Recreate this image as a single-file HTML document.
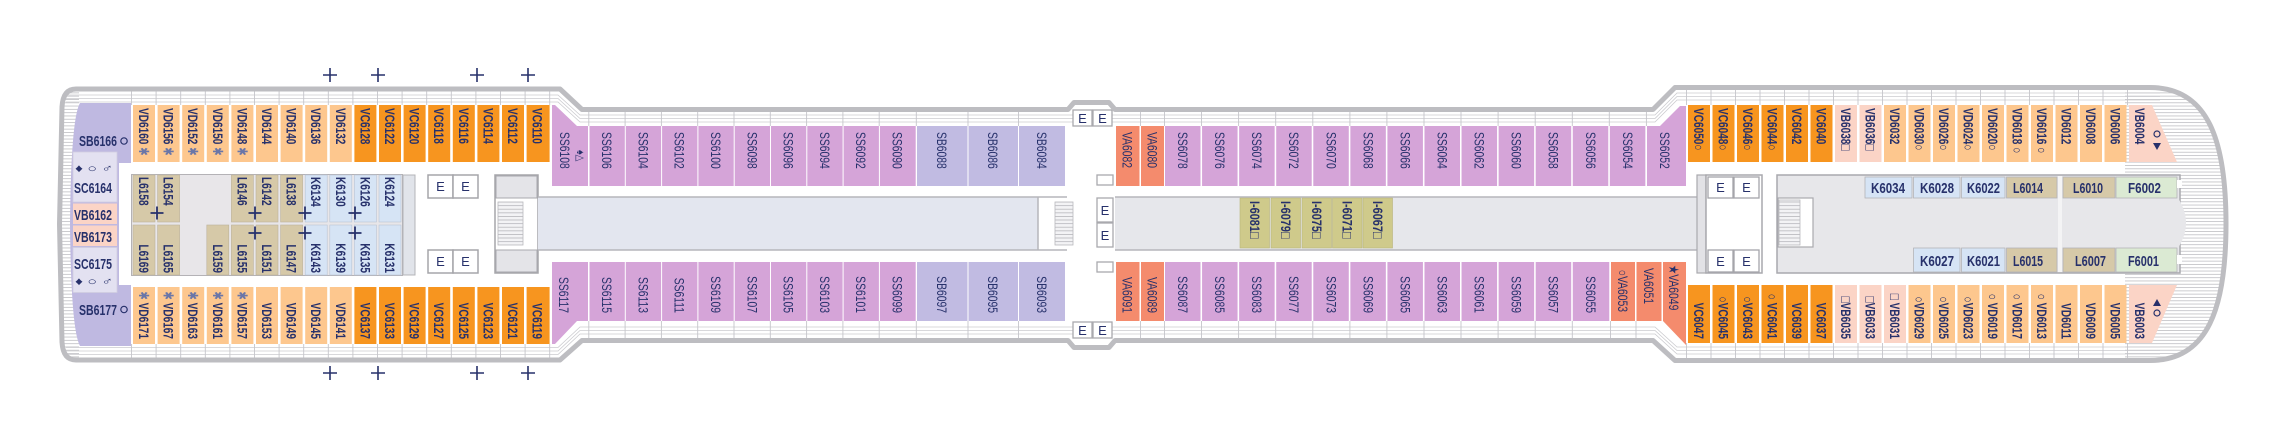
<!DOCTYPE html>
<html><head><meta charset="utf-8"><style>
html,body{margin:0;padding:0;background:#fff;}
svg{display:block;}
text{font-family:"Liberation Sans","DejaVu Sans",sans-serif;fill:#27316b;}
.v{font-size:14px;}
.b{font-weight:bold;}
.e{font-size:13px;}
tspan.s{fill:#6a76a8;font-weight:normal;}
</style></head><body>
<svg width="2270" height="448" viewBox="0 0 2270 448" xmlns="http://www.w3.org/2000/svg">
<defs>
<clipPath id="hc"><path d="M76 89 L560 89 L582 109.5 L1068 109.5 L1074 102.5 L1109 102.5 L1115 109.5 L1653 109.5 L1675 87.5 L2150 87.5 C2208 87.5 2226 140 2226 224 C2226 308 2208 360.5 2150 360.5 L1675 360.5 L1653 340.5 L1115 340.5 L1109 347.5 L1074 347.5 L1068 340.5 L582 340.5 L560 360 L76 360 Q63 360 62 342 L59.5 224 L62 107 Q63 89 76 89 Z"/></clipPath>
<pattern id="st" width="20" height="3.3" patternUnits="userSpaceOnUse"><rect width="20" height="3.3" fill="#fff"/><rect width="20" height="0.9" fill="#c6c6ca"/></pattern>
<pattern id="sg" width="30" height="3.6" patternUnits="userSpaceOnUse"><rect width="30" height="3.6" fill="#f3f3f5"/><rect width="30" height="0.8" fill="#b7b7bc"/></pattern>
</defs>

<path d="M76 89 L560 89 L582 109.5 L1068 109.5 L1074 102.5 L1109 102.5 L1115 109.5 L1653 109.5 L1675 87.5 L2150 87.5 C2208 87.5 2226 140 2226 224 C2226 308 2208 360.5 2150 360.5 L1675 360.5 L1653 340.5 L1115 340.5 L1109 347.5 L1074 347.5 L1068 340.5 L582 340.5 L560 360 L76 360 Q63 360 62 342 L59.5 224 L62 107 Q63 89 76 89 Z" fill="#fff"/>
<g clip-path="url(#hc)">
<rect x="55" y="85" width="24" height="280" fill="url(#st)"/>
<rect x="2125" y="84" width="110" height="282" fill="url(#st)"/>
</g>

<path fill="none" stroke="#cbcbcf" stroke-width="0.8" d="M66 95 L558 95 L580 115 L1655 115 L1677 93 L2160 93 M66 98.5 L558 98.5 L580 118.5 L1655 118.5 L1677 96.5 L2160 96.5 M66 102 L558 102 L580 122 L1655 122 L1677 100 L2160 100 M66 354.5 L558 354.5 L580 334 L1655 334 L1677 354 L2160 354 M66 351 L558 351 L580 330.5 L1655 330.5 L1677 350.5 L2160 350.5 M66 347.5 L558 347.5 L580 327 L1655 327 L1677 347 L2160 347"/>
<path fill="none" stroke="#c6c6cb" stroke-width="0.9" d="M131.5 91V105 M156.1 91V105 M180.7 91V105 M205.3 91V105 M229.9 91V105 M254.5 91V105 M279.1 91V105 M303.7 91V105 M328.3 91V105 M352.9 91V105 M377.5 91V105 M402.1 91V105 M426.7 91V105 M451.3 91V105 M475.9 91V105 M500.5 91V105 M525.1 91V105 M549.7 91V105
M131.5 344V358 M156.1 344V358 M180.7 344V358 M205.3 344V358 M229.9 344V358 M254.5 344V358 M279.1 344V358 M303.7 344V358 M328.3 344V358 M352.9 344V358 M377.5 344V358 M402.1 344V358 M426.7 344V358 M451.3 344V358 M475.9 344V358 M500.5 344V358 M525.1 344V358 M549.7 344V358
M588.8 112V126 M625.1 112V126 M661.4 112V126 M697.7 112V126 M734 112V126 M770.3 112V126 M806.6 112V126 M842.9 112V126 M879.2 112V126 M916.3 112V126 M968 112V126 M1018.5 112V126 M1140.5 112V126 M1164.5 112V126 M1201.5 112V126 M1238.6 112V126 M1275.7 112V126 M1312.8 112V126 M1349.9 112V126 M1386.9 112V126 M1424 112V126 M1461 112V126 M1498.1 112V126 M1535.2 112V126 M1572.3 112V126 M1609.3 112V126 M1646.4 112V126
M588.8 321V338 M625.1 321V338 M661.4 321V338 M697.7 321V338 M734 321V338 M770.3 321V338 M806.6 321V338 M842.9 321V338 M879.2 321V338 M916.3 321V338 M968 321V338 M1018.5 321V338 M1140.5 321V338 M1164.5 321V338 M1201.5 321V338 M1238.6 321V338 M1275.7 321V338 M1312.8 321V338 M1349.9 321V338 M1386.9 321V338 M1424 321V338 M1461 321V338 M1498.1 321V338 M1535.2 321V338 M1572.3 321V338 M1610.5 321V338 M1636 321V338
M1686.5 90V105 M1711 90V105 M1735.5 90V105 M1760 90V105 M1784.5 90V105 M1809 90V105 M1833.5 90V105 M1858 90V105 M1882.5 90V105 M1907 90V105 M1931.5 90V105 M1956 90V105 M1980.5 90V105 M2005 90V105 M2029.5 90V105 M2054 90V105 M2078.5 90V105 M2103 90V105 M2127.5 90V105
M1686.5 343V358 M1711 343V358 M1735.5 343V358 M1760 343V358 M1784.5 343V358 M1809 343V358 M1833.5 343V358 M1858 343V358 M1882.5 343V358 M1907 343V358 M1931.5 343V358 M1956 343V358 M1980.5 343V358 M2005 343V358 M2029.5 343V358 M2054 343V358 M2078.5 343V358 M2103 343V358 M2127.5 343V358"/>

<path d="M80 103 L131 103 L131 163 L119 163 L119 285 L131 285 L131 346 L80 346 Q71 330 70 224 Q71 118 80 103 Z" fill="#bfb9e1"/>
<rect x="73" y="152" width="44" height="50" fill="#e3e1f1" stroke="#d0cee2" stroke-width="0.8"/>
<rect x="73" y="203.5" width="44" height="20.5" fill="#fbd4c6"/>
<rect x="73" y="225.5" width="44" height="20.5" fill="#fbd4c6"/>
<rect x="73" y="247.5" width="44" height="45" fill="#e3e1f1" stroke="#d0cee2" stroke-width="0.8"/>

<g fill="#fdc78e">
<rect x="133" y="105" width="22" height="57"/><rect x="157.6" y="105" width="22" height="57"/><rect x="182.2" y="105" width="22" height="57"/><rect x="206.8" y="105" width="22" height="57"/><rect x="231.4" y="105" width="22" height="57"/><rect x="256" y="105" width="22" height="57"/><rect x="280.6" y="105" width="22" height="57"/><rect x="305.2" y="105" width="22" height="57"/><rect x="329.8" y="105" width="22" height="57"/>
<rect x="133" y="287" width="22" height="57"/><rect x="157.6" y="287" width="22" height="57"/><rect x="182.2" y="287" width="22" height="57"/><rect x="206.8" y="287" width="22" height="57"/><rect x="231.4" y="287" width="22" height="57"/><rect x="256" y="287" width="22" height="57"/><rect x="280.6" y="287" width="22" height="57"/><rect x="305.2" y="287" width="22" height="57"/><rect x="329.8" y="287" width="22" height="57"/>
</g>
<g fill="#f7951f">
<rect x="354.4" y="105" width="22" height="57"/><rect x="379" y="105" width="22" height="57"/><rect x="403.6" y="105" width="22" height="57"/><rect x="428.2" y="105" width="22" height="57"/><rect x="452.8" y="105" width="22" height="57"/><rect x="477.4" y="105" width="22" height="57"/><rect x="502" y="105" width="22" height="57"/><rect x="526.6" y="105" width="23" height="57"/>
<rect x="354.4" y="287" width="22" height="57"/><rect x="379" y="287" width="22" height="57"/><rect x="403.6" y="287" width="22" height="57"/><rect x="428.2" y="287" width="22" height="57"/><rect x="452.8" y="287" width="22" height="57"/><rect x="477.4" y="287" width="22" height="57"/><rect x="502" y="287" width="22" height="57"/><rect x="526.6" y="287" width="23" height="57"/>
</g>

<rect x="131.5" y="174.5" width="271" height="101" fill="#e8e6e9" stroke="#b4b2b6" stroke-width="1"/>
<g fill="#d6c9a8" stroke="#bcb29a" stroke-width="0.6">
<rect x="133" y="175" width="22" height="47"/><rect x="157.6" y="175" width="22" height="47"/><rect x="231.4" y="175" width="22" height="47"/><rect x="256" y="175" width="22" height="47"/><rect x="280.6" y="175" width="22" height="47"/>
<rect x="133" y="225" width="22" height="50"/><rect x="157.6" y="225" width="22" height="50"/><rect x="206.8" y="225" width="22" height="50"/><rect x="231.4" y="225" width="22" height="50"/><rect x="256" y="225" width="22" height="50"/><rect x="280.6" y="225" width="22" height="50"/>
</g>
<g fill="#d6e4f5" stroke="#b8c4d4" stroke-width="0.6">
<rect x="305.2" y="175" width="22" height="47"/><rect x="329.8" y="175" width="22" height="47"/><rect x="354.4" y="175" width="22" height="47"/><rect x="379" y="175" width="22" height="47"/>
<rect x="305.2" y="225" width="22" height="50"/><rect x="329.8" y="225" width="22" height="50"/><rect x="354.4" y="225" width="22" height="50"/><rect x="379" y="225" width="22" height="50"/>
</g>
<rect x="403" y="175" width="12" height="100" fill="#e1e4ea" stroke="#b4b4b8" stroke-width="1"/>

<g fill="#fff" stroke="#a5a5aa" stroke-width="1.5">
<rect x="428" y="175" width="25" height="23"/><rect x="453" y="175" width="25" height="23"/>
<rect x="428" y="250" width="25" height="23"/><rect x="453" y="250" width="25" height="23"/>
<rect x="495" y="175" width="43" height="98"/>
</g>
<rect x="496" y="176" width="41" height="22" fill="#e4e4e8" stroke="#a9a9ae" stroke-width="1"/>
<rect x="496" y="250" width="41" height="22" fill="#e4e4e8" stroke="#a9a9ae" stroke-width="1"/>
<rect x="498" y="202" width="25" height="43" fill="url(#sg)" stroke="#b9b9be" stroke-width="0.8"/>

<rect x="538" y="197" width="500" height="53" fill="#e3e6ef"/>
<path d="M538 197H1067 M538 250H1067 M1038 197V250" stroke="#b6b6bb" stroke-width="1.5" fill="none"/>
<rect x="1055" y="202" width="18" height="43" fill="url(#sg)" stroke="#b9b9be" stroke-width="0.8"/>

<g fill="#d5a4d8">
<polygon points="552,105 555,105 577,126 588,126 588,186 552,186"/>
<rect x="589.5" y="126" width="35.3" height="60"/><rect x="625.8" y="126" width="35.3" height="60"/><rect x="662.1" y="126" width="35.3" height="60"/><rect x="698.4" y="126" width="35.3" height="60"/><rect x="734.7" y="126" width="35.3" height="60"/><rect x="771" y="126" width="35.3" height="60"/><rect x="807.3" y="126" width="35.3" height="60"/><rect x="843.6" y="126" width="35.3" height="60"/><rect x="879.9" y="126" width="35.8" height="60"/>
<polygon points="552,262 588,262 588,321 577,321 555,344 552,344"/>
<rect x="589.5" y="262" width="35.3" height="59"/><rect x="625.8" y="262" width="35.3" height="59"/><rect x="662.1" y="262" width="35.3" height="59"/><rect x="698.4" y="262" width="35.3" height="59"/><rect x="734.7" y="262" width="35.3" height="59"/><rect x="771" y="262" width="35.3" height="59"/><rect x="807.3" y="262" width="35.3" height="59"/><rect x="843.6" y="262" width="35.3" height="59"/><rect x="879.9" y="262" width="35.8" height="59"/>
</g>
<g fill="#c1bbe2">
<rect x="917" y="126" width="50.5" height="60"/><rect x="968.5" y="126" width="49.5" height="60"/><rect x="1019" y="126" width="46" height="60"/>
<rect x="917" y="262" width="50.5" height="59"/><rect x="968.5" y="262" width="49.5" height="59"/><rect x="1019" y="262" width="46" height="59"/>
</g>

<g fill="#fff" stroke="#a9a9ae" stroke-width="1.3">
<rect x="1073" y="110" width="19" height="16"/><rect x="1093" y="110" width="19" height="16"/>
<rect x="1073" y="322" width="19" height="16"/><rect x="1093" y="322" width="19" height="16"/>
<rect x="1097" y="175" width="16" height="10"/><rect x="1097" y="198" width="16" height="24"/><rect x="1097" y="223" width="16" height="24"/><rect x="1097" y="262" width="16" height="10"/>
</g>

<rect x="1115" y="197" width="582" height="53" fill="#e6e7eb"/>
<path d="M1115 197H1697 M1115 250H1697" stroke="#b6b6bb" stroke-width="1.5" fill="none"/>
<g fill="#cfca8b" stroke="#b8b47a" stroke-width="0.6">
<rect x="1240" y="198" width="29.5" height="50"/><rect x="1271" y="198" width="29.5" height="50"/><rect x="1302" y="198" width="29.5" height="50"/><rect x="1332.5" y="198" width="29.5" height="50"/><rect x="1363" y="198" width="29.5" height="50"/>
</g>

<g fill="#f48b6d">
<rect x="1116" y="126" width="23.5" height="60"/><rect x="1141" y="126" width="23" height="60"/>
<rect x="1116" y="262" width="23.5" height="59"/><rect x="1141" y="262" width="23" height="59"/>
<rect x="1611" y="262" width="24" height="59"/><rect x="1636.5" y="262" width="25" height="59"/>
<polygon points="1663,262 1686,262 1686,345 1663,321"/>
</g>
<g fill="#d5a4d8">
<rect x="1165" y="126" width="35.5" height="60"/><rect x="1202.07" y="126" width="35.5" height="60"/><rect x="1239.14" y="126" width="35.5" height="60"/><rect x="1276.21" y="126" width="35.5" height="60"/><rect x="1313.28" y="126" width="35.5" height="60"/><rect x="1350.35" y="126" width="35.5" height="60"/><rect x="1387.42" y="126" width="35.5" height="60"/><rect x="1424.49" y="126" width="35.5" height="60"/><rect x="1461.56" y="126" width="35.5" height="60"/><rect x="1498.63" y="126" width="35.5" height="60"/><rect x="1535.7" y="126" width="35.5" height="60"/><rect x="1572.77" y="126" width="35.5" height="60"/><rect x="1609.84" y="126" width="35.5" height="60"/>
<polygon points="1647,126 1660,126 1680,106 1686,106 1686,186 1647,186"/>
<rect x="1165" y="262" width="35.5" height="59"/><rect x="1202.07" y="262" width="35.5" height="59"/><rect x="1239.14" y="262" width="35.5" height="59"/><rect x="1276.21" y="262" width="35.5" height="59"/><rect x="1313.28" y="262" width="35.5" height="59"/><rect x="1350.35" y="262" width="35.5" height="59"/><rect x="1387.42" y="262" width="35.5" height="59"/><rect x="1424.49" y="262" width="35.5" height="59"/><rect x="1461.56" y="262" width="35.5" height="59"/><rect x="1498.63" y="262" width="35.5" height="59"/><rect x="1535.7" y="262" width="35.5" height="59"/><rect x="1572.77" y="262" width="36.5" height="59"/>
</g>

<rect x="1697" y="175" width="9" height="98" fill="#e2e2e6" stroke="#a9a9ae" stroke-width="1.2"/>
<rect x="1706" y="175" width="56" height="98" fill="#fff" stroke="#a9a9ae" stroke-width="1.5"/>
<g fill="#fff" stroke="#a5a5aa" stroke-width="1.3">
<rect x="1708" y="177" width="25" height="21"/><rect x="1734" y="177" width="25" height="21"/>
<rect x="1708" y="250" width="25" height="22"/><rect x="1734" y="250" width="25" height="22"/>
</g>
<rect x="1777" y="175" width="403" height="98" fill="#e7e7ea" stroke="#a9a9ae" stroke-width="1.5"/>
<path d="M2178 198 Q2194 223 2178 248 Z" fill="#e7e7ea"/>
<rect x="1778" y="198" width="35" height="49" fill="#fff" stroke="#a9a9ae" stroke-width="1.2"/>
<rect x="1779" y="200" width="21" height="45" fill="url(#sg)" stroke="#b9b9be" stroke-width="0.8"/>
<rect x="2058" y="176" width="4" height="96" fill="#f4f4f5"/>
<g stroke="#b4b4b8" stroke-width="0.8">
<rect x="1865" y="177" width="47" height="21" fill="#d6e4f5"/><rect x="1913.5" y="177" width="46.5" height="21" fill="#d6e4f5"/><rect x="1961.5" y="177" width="43.5" height="21" fill="#d6e4f5"/>
<rect x="2006.5" y="177" width="50.5" height="21" fill="#d6c9a8"/><rect x="2063" y="177" width="52" height="21" fill="#d6c9a8"/><rect x="2116" y="177" width="61" height="21" fill="#dbead3"/>
<rect x="1913.5" y="248" width="46.5" height="24" fill="#d6e4f5"/><rect x="1961.5" y="248" width="43.5" height="24" fill="#d6e4f5"/>
<rect x="2006.5" y="248" width="50.5" height="24" fill="#d6c9a8"/><rect x="2063" y="248" width="52" height="24" fill="#d6c9a8"/><rect x="2116" y="248" width="61" height="24" fill="#dbead3"/>
</g>
<rect x="2177" y="180" width="5" height="8" fill="#fff"/><rect x="2177" y="255" width="5" height="9" fill="#fff"/>

<g fill="#f7951f">
<rect x="1688" y="105" width="22" height="57"/><rect x="1712.5" y="105" width="22" height="57"/><rect x="1737" y="105" width="22" height="57"/><rect x="1761.5" y="105" width="22" height="57"/><rect x="1786" y="105" width="22" height="57"/><rect x="1810.5" y="105" width="22" height="57"/>
<rect x="1688" y="285" width="22" height="58"/><rect x="1712.5" y="285" width="22" height="58"/><rect x="1737" y="285" width="22" height="58"/><rect x="1761.5" y="285" width="22" height="58"/><rect x="1786" y="285" width="22" height="58"/><rect x="1810.5" y="285" width="22" height="58"/>
</g>
<g fill="#fbd4c6">
<rect x="1835" y="105" width="22" height="57"/><rect x="1859.5" y="105" width="22" height="57"/>
<rect x="1835" y="285" width="22" height="58"/><rect x="1859.5" y="285" width="22" height="58"/><rect x="1884" y="285" width="22" height="58"/>
<polygon points="2129,105 2152,105 2177,162 2129,162"/>
<polygon points="2129,285 2177,285 2152,343 2129,343"/>
</g>
<g fill="#fdc78e">
<rect x="1884" y="105" width="22" height="57"/><rect x="1908.5" y="105" width="22" height="57"/><rect x="1933" y="105" width="22" height="57"/><rect x="1957.5" y="105" width="22" height="57"/><rect x="1982" y="105" width="22" height="57"/><rect x="2006.5" y="105" width="22" height="57"/><rect x="2031" y="105" width="22" height="57"/><rect x="2055.5" y="105" width="22" height="57"/><rect x="2080" y="105" width="22" height="57"/><rect x="2104.5" y="105" width="22" height="57"/>
<rect x="1908.5" y="285" width="22" height="58"/><rect x="1933" y="285" width="22" height="58"/><rect x="1957.5" y="285" width="22" height="58"/><rect x="1982" y="285" width="22" height="58"/><rect x="2006.5" y="285" width="22" height="58"/><rect x="2031" y="285" width="22" height="58"/><rect x="2055.5" y="285" width="22" height="58"/><rect x="2080" y="285" width="22" height="58"/><rect x="2104.5" y="285" width="22" height="58"/>
</g>

<path d="M76 89 L560 89 L582 109.5 L1068 109.5 L1074 102.5 L1109 102.5 L1115 109.5 L1653 109.5 L1675 87.5 L2150 87.5 C2208 87.5 2226 140 2226 224 C2226 308 2208 360.5 2150 360.5 L1675 360.5 L1653 340.5 L1115 340.5 L1109 347.5 L1074 347.5 L1068 340.5 L582 340.5 L560 360 L76 360 Q63 360 62 342 L59.5 224 L62 107 Q63 89 76 89 Z" fill="none" stroke="#bdbdc1" stroke-width="5" stroke-linejoin="round"/>

<path fill="none" stroke="#27316b" stroke-width="1.6" d="M323 75h14M330 68v14 M371 75h14M378 68v14 M470 75h14M477 68v14 M521 75h14M528 68v14 M323 373h14M330 366v14 M371 373h14M378 366v14 M470 373h14M477 366v14 M521 373h14M528 366v14"/>
<path fill="none" stroke="#27316b" stroke-width="1.8" d="M150.5 213h13M157 206.5v13 M248.5 213h13M255 206.5v13 M248.5 233h13M255 226.5v13 M298.5 213h13M305 206.5v13 M298.5 233h13M305 226.5v13 M348.5 213h13M355 206.5v13 M348.5 233h13M355 226.5v13"/>

<circle cx="2157" cy="134" r="3" fill="none" stroke="#27316b" stroke-width="1.2"/>
<polygon points="2153,143 2161,143 2157,150" fill="#27316b"/>
<polygon points="2153,306 2161,306 2157,299" fill="#27316b"/>
<circle cx="2157" cy="313" r="3" fill="none" stroke="#27316b" stroke-width="1.2"/>
<circle cx="124" cy="141" r="3.2" fill="none" stroke="#27316b" stroke-width="1.2"/>
<circle cx="124" cy="309.5" r="3.2" fill="none" stroke="#27316b" stroke-width="1.2"/>

<g font-size="15" font-weight="bold">
<text x="79" y="146" textLength="38" lengthAdjust="spacingAndGlyphs">SB6166</text>
<text x="74" y="193" textLength="38" lengthAdjust="spacingAndGlyphs">SC6164</text>
<text x="74" y="220" textLength="38" lengthAdjust="spacingAndGlyphs">VB6162</text>
<text x="74" y="242" textLength="38" lengthAdjust="spacingAndGlyphs">VB6173</text>
<text x="74" y="269" textLength="38" lengthAdjust="spacingAndGlyphs">SC6175</text>
<text x="79" y="315" textLength="38" lengthAdjust="spacingAndGlyphs">SB6177</text>
<text x="1871" y="193" textLength="34" lengthAdjust="spacingAndGlyphs">K6034</text>
<text x="1920" y="193" textLength="34" lengthAdjust="spacingAndGlyphs">K6028</text>
<text x="1967" y="193" textLength="33" lengthAdjust="spacingAndGlyphs">K6022</text>
<text x="2013" y="193" textLength="30" lengthAdjust="spacingAndGlyphs">L6014</text>
<text x="2073" y="193" textLength="30" lengthAdjust="spacingAndGlyphs">L6010</text>
<text x="2128" y="193" textLength="33" lengthAdjust="spacingAndGlyphs">F6002</text>
<text x="1920" y="266" textLength="34" lengthAdjust="spacingAndGlyphs">K6027</text>
<text x="1967" y="266" textLength="33" lengthAdjust="spacingAndGlyphs">K6021</text>
<text x="2013" y="266" textLength="30" lengthAdjust="spacingAndGlyphs">L6015</text>
<text x="2075" y="266" textLength="31" lengthAdjust="spacingAndGlyphs">L6007</text>
<text x="2128" y="266" textLength="31" lengthAdjust="spacingAndGlyphs">F6001</text>
</g>
<g font-size="11">
<text x="75" y="172" textLength="38" lengthAdjust="spacingAndGlyphs">♦ ○ ♂</text>
<text x="75" y="285" textLength="38" lengthAdjust="spacingAndGlyphs">♦ ○ ♂</text>
</g>

<g class="e" text-anchor="middle">
<text x="440.5" y="191">E</text><text x="465.5" y="191">E</text><text x="440.5" y="266">E</text><text x="465.5" y="266">E</text>
<text x="1082.5" y="123">E</text><text x="1102.5" y="123">E</text><text x="1082.5" y="335">E</text><text x="1102.5" y="335">E</text>
<text x="1105" y="215">E</text><text x="1105" y="240">E</text>
<text x="1720.5" y="192">E</text><text x="1746.5" y="192">E</text><text x="1720.5" y="266">E</text><text x="1746.5" y="266">E</text>
</g>

<g class="v b">
<text transform="translate(139,108) rotate(90) scale(.72,1)">VD6160 <tspan class="s">✱</tspan></text>
<text transform="translate(163.6,108) rotate(90) scale(.72,1)">VD6156 <tspan class="s">✱</tspan></text>
<text transform="translate(188.2,108) rotate(90) scale(.72,1)">VD6152 <tspan class="s">✱</tspan></text>
<text transform="translate(212.8,108) rotate(90) scale(.72,1)">VD6150 <tspan class="s">✱</tspan></text>
<text transform="translate(237.4,108) rotate(90) scale(.72,1)">VD6148 <tspan class="s">✱</tspan></text>
<text transform="translate(262,108) rotate(90) scale(.72,1)">VD6144</text>
<text transform="translate(286.6,108) rotate(90) scale(.72,1)">VD6140</text>
<text transform="translate(311.2,108) rotate(90) scale(.72,1)">VD6136</text>
<text transform="translate(335.8,108) rotate(90) scale(.72,1)">VD6132</text>
<text transform="translate(360.4,108) rotate(90) scale(.72,1)">VC6128</text>
<text transform="translate(385,108) rotate(90) scale(.72,1)">VC6122</text>
<text transform="translate(409.6,108) rotate(90) scale(.72,1)">VC6120</text>
<text transform="translate(434.2,108) rotate(90) scale(.72,1)">VC6118</text>
<text transform="translate(458.8,108) rotate(90) scale(.72,1)">VC6116</text>
<text transform="translate(483.4,108) rotate(90) scale(.72,1)">VC6114</text>
<text transform="translate(508,108) rotate(90) scale(.72,1)">VC6112</text>
<text transform="translate(532.6,108) rotate(90) scale(.72,1)">VC6110</text>

<text transform="translate(1694,108) rotate(90) scale(.72,1)">VC6050○</text>
<text transform="translate(1718.5,108) rotate(90) scale(.72,1)">VC6048○</text>
<text transform="translate(1743,108) rotate(90) scale(.72,1)">VC6046○</text>
<text transform="translate(1767.5,108) rotate(90) scale(.72,1)">VC6044○</text>
<text transform="translate(1792,108) rotate(90) scale(.72,1)">VC6042</text>
<text transform="translate(1816.5,108) rotate(90) scale(.72,1)">VC6040</text>
<text transform="translate(1841,108) rotate(90) scale(.72,1)">VB6038□</text>
<text transform="translate(1865.5,108) rotate(90) scale(.72,1)">VB6036□</text>
<text transform="translate(1890,108) rotate(90) scale(.72,1)">VD6032</text>
<text transform="translate(1914.5,108) rotate(90) scale(.72,1)">VD6030○</text>
<text transform="translate(1939,108) rotate(90) scale(.72,1)">VD6026○</text>
<text transform="translate(1963.5,108) rotate(90) scale(.72,1)">VD6024○</text>
<text transform="translate(1988,108) rotate(90) scale(.72,1)">VD6020○</text>
<text transform="translate(2012.5,108) rotate(90) scale(.72,1)">VD6018 ○</text>
<text transform="translate(2037,108) rotate(90) scale(.72,1)">VD6016 ○</text>
<text transform="translate(2061.5,108) rotate(90) scale(.72,1)">VD6012</text>
<text transform="translate(2086,108) rotate(90) scale(.72,1)">VD6008</text>
<text transform="translate(2110.5,108) rotate(90) scale(.72,1)">VD6006</text>
<text transform="translate(2135,108) rotate(90) scale(.72,1)">VB6004</text>

<text transform="translate(139,177) rotate(90) scale(.72,1)">L6158</text>
<text transform="translate(163.6,177) rotate(90) scale(.72,1)">L6154</text>
<text transform="translate(237.4,177) rotate(90) scale(.72,1)">L6146</text>
<text transform="translate(262,177) rotate(90) scale(.72,1)">L6142</text>
<text transform="translate(286.6,177) rotate(90) scale(.72,1)">L6138</text>
<text transform="translate(311.2,177) rotate(90) scale(.72,1)">K6134</text>
<text transform="translate(335.8,177) rotate(90) scale(.72,1)">K6130</text>
<text transform="translate(360.4,177) rotate(90) scale(.72,1)">K6126</text>
<text transform="translate(385,177) rotate(90) scale(.72,1)">K6124</text>

<text transform="translate(1249.75,201) rotate(90) scale(.78,1)">I-6081□</text>
<text transform="translate(1280.75,201) rotate(90) scale(.78,1)">I-6079□</text>
<text transform="translate(1311.75,201) rotate(90) scale(.78,1)">I-6075□</text>
<text transform="translate(1342.25,201) rotate(90) scale(.78,1)">I-6071□</text>
<text transform="translate(1372.75,201) rotate(90) scale(.78,1)">I-6067□</text>
</g>

<g class="v">
<text transform="translate(560,132) rotate(90) scale(.74,1)">SS6108</text>
<text transform="translate(602.1,132) rotate(90) scale(.74,1)">SS6106</text>
<text transform="translate(638.4,132) rotate(90) scale(.74,1)">SS6104</text>
<text transform="translate(674.7,132) rotate(90) scale(.74,1)">SS6102</text>
<text transform="translate(711,132) rotate(90) scale(.74,1)">SS6100</text>
<text transform="translate(747.3,132) rotate(90) scale(.74,1)">SS6098</text>
<text transform="translate(783.6,132) rotate(90) scale(.74,1)">SS6096</text>
<text transform="translate(819.9,132) rotate(90) scale(.74,1)">SS6094</text>
<text transform="translate(856.2,132) rotate(90) scale(.74,1)">SS6092</text>
<text transform="translate(892.5,132) rotate(90) scale(.74,1)">SS6090</text>
<text transform="translate(937,132) rotate(90) scale(.74,1)">SB6088</text>
<text transform="translate(988,132) rotate(90) scale(.74,1)">SB6086</text>
<text transform="translate(1037,132) rotate(90) scale(.74,1)">SB6084</text>
<text transform="translate(1122.5,132) rotate(90) scale(.74,1)">VA6082</text>
<text transform="translate(1147.5,132) rotate(90) scale(.74,1)">VA6080</text>
<text transform="translate(1178,132) rotate(90) scale(.74,1)">SS6078</text>
<text transform="translate(1215.1,132) rotate(90) scale(.74,1)">SS6076</text>
<text transform="translate(1252.1,132) rotate(90) scale(.74,1)">SS6074</text>
<text transform="translate(1289.2,132) rotate(90) scale(.74,1)">SS6072</text>
<text transform="translate(1326.3,132) rotate(90) scale(.74,1)">SS6070</text>
<text transform="translate(1363.4,132) rotate(90) scale(.74,1)">SS6068</text>
<text transform="translate(1400.4,132) rotate(90) scale(.74,1)">SS6066</text>
<text transform="translate(1437.5,132) rotate(90) scale(.74,1)">SS6064</text>
<text transform="translate(1474.6,132) rotate(90) scale(.74,1)">SS6062</text>
<text transform="translate(1511.6,132) rotate(90) scale(.74,1)">SS6060</text>
<text transform="translate(1548.7,132) rotate(90) scale(.74,1)">SS6058</text>
<text transform="translate(1585.8,132) rotate(90) scale(.74,1)">SS6056</text>
<text transform="translate(1622.8,132) rotate(90) scale(.74,1)">SS6054</text>
<text transform="translate(1660,132) rotate(90) scale(.74,1)">SS6052</text>
<text transform="translate(1669,265) rotate(90) scale(.74,1)">★VA6049</text>
<text font-size="11" transform="translate(577,150) rotate(90) scale(.8,1)">♠△</text>
</g>

<g class="v b" text-anchor="end">
<text transform="translate(139,339) rotate(90) scale(.72,1)"><tspan class="s">✱</tspan> VD6171</text>
<text transform="translate(163.6,339) rotate(90) scale(.72,1)"><tspan class="s">✱</tspan> VD6167</text>
<text transform="translate(188.2,339) rotate(90) scale(.72,1)"><tspan class="s">✱</tspan> VD6163</text>
<text transform="translate(212.8,339) rotate(90) scale(.72,1)"><tspan class="s">✱</tspan> VD6161</text>
<text transform="translate(237.4,339) rotate(90) scale(.72,1)"><tspan class="s">✱</tspan> VD6157</text>
<text transform="translate(262,339) rotate(90) scale(.72,1)">VD6153</text>
<text transform="translate(286.6,339) rotate(90) scale(.72,1)">VD6149</text>
<text transform="translate(311.2,339) rotate(90) scale(.72,1)">VD6145</text>
<text transform="translate(335.8,339) rotate(90) scale(.72,1)">VD6141</text>
<text transform="translate(360.4,339) rotate(90) scale(.72,1)">VC6137</text>
<text transform="translate(385,339) rotate(90) scale(.72,1)">VC6133</text>
<text transform="translate(409.6,339) rotate(90) scale(.72,1)">VC6129</text>
<text transform="translate(434.2,339) rotate(90) scale(.72,1)">VC6127</text>
<text transform="translate(458.8,339) rotate(90) scale(.72,1)">VC6125</text>
<text transform="translate(483.4,339) rotate(90) scale(.72,1)">VC6123</text>
<text transform="translate(508,339) rotate(90) scale(.72,1)">VC6121</text>
<text transform="translate(532.6,339) rotate(90) scale(.72,1)">VC6119</text>

<text transform="translate(1694,339) rotate(90) scale(.72,1)">VC6047</text>
<text transform="translate(1718.5,339) rotate(90) scale(.72,1)">○VC6045</text>
<text transform="translate(1743,339) rotate(90) scale(.72,1)">○VC6043</text>
<text transform="translate(1767.5,339) rotate(90) scale(.72,1)">○ VC6041</text>
<text transform="translate(1792,339) rotate(90) scale(.72,1)">VC6039</text>
<text transform="translate(1816.5,339) rotate(90) scale(.72,1)">VC6037</text>
<text transform="translate(1841,339) rotate(90) scale(.72,1)">□VB6035</text>
<text transform="translate(1865.5,339) rotate(90) scale(.72,1)">□VB6033</text>
<text transform="translate(1890,339) rotate(90) scale(.72,1)">□ VB6031</text>
<text transform="translate(1914.5,339) rotate(90) scale(.72,1)">○VD6029</text>
<text transform="translate(1939,339) rotate(90) scale(.72,1)">○VD6025</text>
<text transform="translate(1963.5,339) rotate(90) scale(.72,1)">○VD6023</text>
<text transform="translate(1988,339) rotate(90) scale(.72,1)">○ VD6019</text>
<text transform="translate(2012.5,339) rotate(90) scale(.72,1)">○ VD6017</text>
<text transform="translate(2037,339) rotate(90) scale(.72,1)">○ VD6013</text>
<text transform="translate(2061.5,339) rotate(90) scale(.72,1)">VD6011</text>
<text transform="translate(2086,339) rotate(90) scale(.72,1)">VD6009</text>
<text transform="translate(2110.5,339) rotate(90) scale(.72,1)">VD6005</text>
<text transform="translate(2135,339) rotate(90) scale(.72,1)">VB6003</text>

<text transform="translate(139,273) rotate(90) scale(.72,1)">L6169</text>
<text transform="translate(163.6,273) rotate(90) scale(.72,1)">L6165</text>
<text transform="translate(212.8,273) rotate(90) scale(.72,1)">L6159</text>
<text transform="translate(237.4,273) rotate(90) scale(.72,1)">L6155</text>
<text transform="translate(262,273) rotate(90) scale(.72,1)">L6151</text>
<text transform="translate(286.6,273) rotate(90) scale(.72,1)">L6147</text>
<text transform="translate(311.2,273) rotate(90) scale(.72,1)">K6143</text>
<text transform="translate(335.8,273) rotate(90) scale(.72,1)">K6139</text>
<text transform="translate(360.4,273) rotate(90) scale(.72,1)">K6135</text>
<text transform="translate(385,273) rotate(90) scale(.72,1)">K6131</text>
</g>

<g class="v" text-anchor="end">
<text transform="translate(559,313) rotate(90) scale(.74,1)">SS6117</text>
<text transform="translate(602.1,313) rotate(90) scale(.74,1)">SS6115</text>
<text transform="translate(638.4,313) rotate(90) scale(.74,1)">SS6113</text>
<text transform="translate(674.7,313) rotate(90) scale(.74,1)">SS6111</text>
<text transform="translate(711,313) rotate(90) scale(.74,1)">SS6109</text>
<text transform="translate(747.3,313) rotate(90) scale(.74,1)">SS6107</text>
<text transform="translate(783.6,313) rotate(90) scale(.74,1)">SS6105</text>
<text transform="translate(819.9,313) rotate(90) scale(.74,1)">SS6103</text>
<text transform="translate(856.2,313) rotate(90) scale(.74,1)">SS6101</text>
<text transform="translate(892.5,313) rotate(90) scale(.74,1)">SS6099</text>
<text transform="translate(937,313) rotate(90) scale(.74,1)">SB6097</text>
<text transform="translate(988,313) rotate(90) scale(.74,1)">SB6095</text>
<text transform="translate(1037,313) rotate(90) scale(.74,1)">SB6093</text>
<text transform="translate(1122.5,313) rotate(90) scale(.74,1)">VA6091</text>
<text transform="translate(1147.5,313) rotate(90) scale(.74,1)">VA6089</text>
<text transform="translate(1178,313) rotate(90) scale(.74,1)">SS6087</text>
<text transform="translate(1215.1,313) rotate(90) scale(.74,1)">SS6085</text>
<text transform="translate(1252.1,313) rotate(90) scale(.74,1)">SS6083</text>
<text transform="translate(1289.2,313) rotate(90) scale(.74,1)">SS6077</text>
<text transform="translate(1326.3,313) rotate(90) scale(.74,1)">SS6073</text>
<text transform="translate(1363.4,313) rotate(90) scale(.74,1)">SS6069</text>
<text transform="translate(1400.4,313) rotate(90) scale(.74,1)">SS6065</text>
<text transform="translate(1437.5,313) rotate(90) scale(.74,1)">SS6063</text>
<text transform="translate(1474.6,313) rotate(90) scale(.74,1)">SS6061</text>
<text transform="translate(1511.6,313) rotate(90) scale(.74,1)">SS6059</text>
<text transform="translate(1548.7,313) rotate(90) scale(.74,1)">SS6057</text>
<text transform="translate(1585.8,313) rotate(90) scale(.74,1)">SS6055</text>
<text transform="translate(1618,312) rotate(90) scale(.74,1)">○VA6053</text>
<text transform="translate(1644,304) rotate(90) scale(.74,1)">VA6051</text>
</g>
</svg>
</body></html>
